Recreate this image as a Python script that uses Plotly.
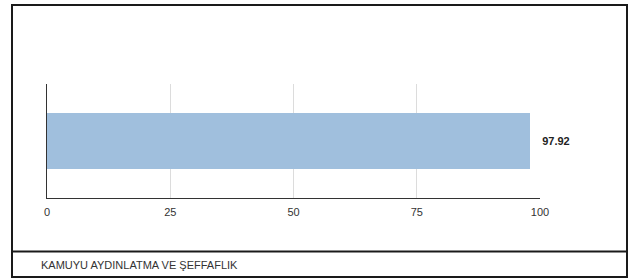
import plotly.graph_objects as go

categories = ["KAMUYU AYDINLATMA VE ŞEFFAFLIK"]
values = [97.92]
value_labels = ["97.92"]
tick_vals = [0, 25, 50, 75, 100]
tick_text = ["0", "25", "50", "75", "100"]

W, H = 630, 280
L, R, T, B = 47, 90, 84, 82
pw, ph = W - L - R, H - T - B

def px(x):
    return (x - L) / pw

def py(y):
    return 1 - (y - T) / ph

fig = go.Figure()
fig.add_trace(go.Bar(
    y=[0], x=values, orientation="h",
    marker=dict(color="#a0bfdd", line=dict(width=0)),
    width=0.49, hoverinfo="skip", showlegend=False,
    text=["\u00a0\u00a0\u00a0" + v for v in value_labels], textposition="outside",
    cliponaxis=False, constraintext="none",
    textfont=dict(family="Liberation Sans, Arial", size=11, color="#222", weight="bold"),
))

line = dict(color="#1a1a1a", width=2)
for (x0, y0, x1, y1) in [(12, 5, 627, 5), (12, 251.5, 627, 251.5), (12, 277, 627, 277),
                         (12, 4, 12, 278), (627, 4, 627, 278)]:
    fig.add_shape(type="line", xref="paper", yref="paper",
                  x0=px(x0), x1=px(x1), y0=py(y0), y1=py(y1), line=line)

fig.update_layout(
    width=W, height=H,
    margin=dict(l=L, r=R, t=T, b=B, pad=0),
    paper_bgcolor="white", plot_bgcolor="white",
    bargap=0,
    title=dict(text=categories[0], xref="container", yref="container",
               x=41 / W, y=1 - 265 / H, xanchor="left", yanchor="middle",
               font=dict(family="Liberation Sans, Arial", size=11, color="#333")),
    xaxis=dict(range=[0, 100], tickvals=tick_vals, ticktext=tick_text,
               showgrid=True, gridcolor="#dcdcdc", gridwidth=1,
               zeroline=False, showline=True, linecolor="#333", linewidth=1,
               ticks="", ticklabelstandoff=4,
               tickfont=dict(family="Liberation Sans, Arial", size=11, color="#333")),
    yaxis=dict(range=[-0.5, 0.5], showticklabels=False, showgrid=False, zeroline=False,
               showline=True, linecolor="#333", linewidth=1, ticks=""),
)

fig.write_html("out.html", config={"displayModeBar": False},
               post_script="document.body.style.margin='0';document.body.style.padding='0';")
